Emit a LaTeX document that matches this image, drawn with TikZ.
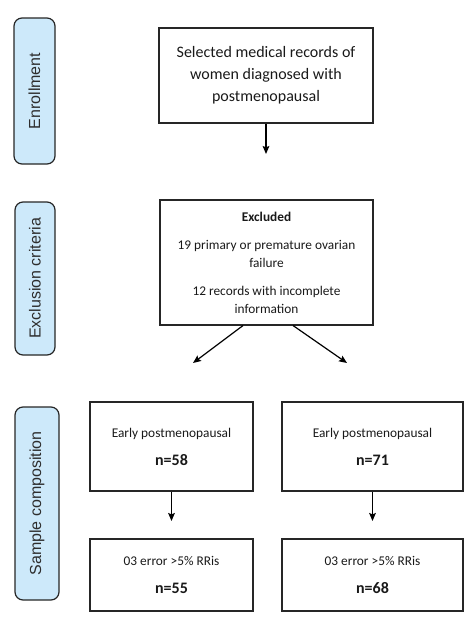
\documentclass[tikz,border=0pt]{standalone}
\usepackage{fontspec}
\setmainfont{Carlito}
\newfontfamily\labelfont{Liberation Sans}
\usetikzlibrary{shapes.geometric, arrows.meta}
\definecolor{stagefill}{HTML}{CDE9FA}
\definecolor{stagetext}{HTML}{2E2E2E}
\tikzstyle{stage} = [rectangle, rounded corners=6pt, draw=black!85, fill=stagefill, line width=0.9pt, rotate=90, text=stagetext, font=\labelfont\fontsize{12}{14}\selectfont, inner sep=0pt]
\tikzstyle{record} = [rectangle, draw=black!85, line width=0.8pt, align=center, text centered, text=black!90, inner sep=2pt]
\tikzstyle{arrow} = [line width=0.9pt,-{Stealth[length=6pt, width=5pt, inset=1pt]}]

\begin{document}
\begin{tikzpicture}[x=0.75pt, y=-0.75pt]
    \useasboundingbox (0,0) rectangle (474,632);
    % Stages
    \node (enroll) [stage, minimum width=109.5pt, minimum height=30.75pt] at (34.5,91) {Enrollment};
    \node (exclusion) [stage, minimum width=114.75pt, minimum height=30pt] at (35,278.5) {Exclusion criteria};
    \node (sample) [stage, minimum width=144.75pt, minimum height=33pt] at (37,503.5) {Sample composition};
    % Nodes
    \node (selected) [record, minimum width=160.5pt, minimum height=71.25pt, font=\fontsize{12}{16.5}\selectfont] at (266,75.5) {Selected medical records of\\ women diagnosed with\\ postmenopausal};
    \node (excluded) [record, minimum width=159.75pt, minimum height=93.75pt, font=\fontsize{10}{13.5}\selectfont] at (266.5,262.5) {{\bfseries Excluded}\\[7.5pt] 19 primary or premature ovarian\\ failure\\[7.5pt] 12 records with incomplete\\ information};
    \node (early_a) [record, minimum width=122.25pt, minimum height=66.75pt, font=\fontsize{10}{21}\selectfont] at (171.5,446.5) {Early postmenopausal\\ {\bfseries\fontsize{12}{21}\selectfont n=58}};
    \node (early_b) [record, minimum width=135.75pt, minimum height=66.75pt, font=\fontsize{10}{21}\selectfont] at (372.5,446.5) {Early postmenopausal\\ {\bfseries\fontsize{12}{21}\selectfont n=71}};
    \node (error_a) [record, minimum width=122.25pt, minimum height=54pt, font=\fontsize{10}{21}\selectfont] at (171.5,575) {03 error >5\% RRis\\ {\bfseries\fontsize{12}{21}\selectfont n=55}};
    \node (error_b) [record, minimum width=135.75pt, minimum height=54pt, font=\fontsize{10}{21}\selectfont] at (372.5,575) {03 error >5\% RRis\\ {\bfseries\fontsize{12}{21}\selectfont n=68}};
    % Arrow ends
    \coordinate (enroll_end) at (266,154);
    \coordinate (split_left) at (193,363);
    \coordinate (split_right) at (347,363);
    \coordinate (early_a_end) at (171.5,521);
    \coordinate (early_b_end) at (372.5,521);
    % Arrows
    \draw [arrow] (selected) -- (enroll_end);
    \draw [arrow] ([xshift=-17.6pt]excluded.south) -- (split_left);
    \draw [arrow] ([xshift=19.9pt]excluded.south) -- (split_right);
    \draw [arrow] (early_a) -- (early_a_end);
    \draw [arrow] (early_b) -- (early_b_end);
\end{tikzpicture}
\end{document}
